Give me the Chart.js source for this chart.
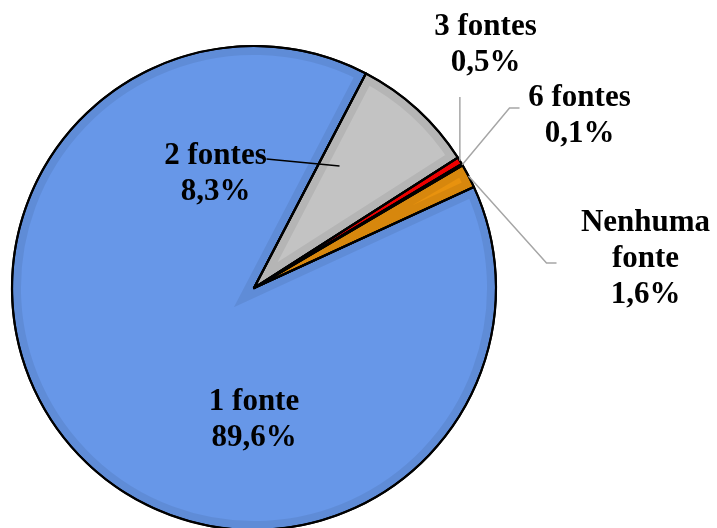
<!DOCTYPE html>
<html><head><meta charset="utf-8">
<script src="https://cdn.jsdelivr.net/npm/chart.js@4"></script>
<style>html,body{margin:0;padding:0;background:#fff;overflow:hidden}#wrap{width:717px;height:540px}</style>
</head><body><div id="wrap"><canvas id="c" width="717" height="540"></canvas></div>
<script>
const categories = ['1 fonte', '2 fontes', '3 fontes', '6 fontes', 'Nenhuma fonte'];
const percentages = [89.6, 8.3, 0.5, 0.1, 1.6];
const percentLabels = ['89,6%', '8,3%', '0,5%', '0,1%', '1,6%'];
const labelLines = [['1 fonte'], ['2 fontes'], ['3 fontes'], ['6 fontes'], ['Nenhuma', 'fonte']];
const sliceColors = ['#6797E8', '#C3C3C3', '#FF0000', '#000000', '#E8920E'];

// label block centre offsets from pie centre (px)
const labelOffsets = [[0, 131.5], [-38.5, -114.5], [231.5, -243.5], [325.5, -172.5], [391.5, -29]];
// leader line points after the slice anchor (offsets from centre)
const leaders = [null, null, [[206, -191]], [[255.5, -180], [265.5, -180]], [[292.5, -25], [302.5, -25]]];

const bevelPlugin = {
  id: 'bevel',
  afterDatasetsDraw(chart) {
    const ctx = chart.ctx;
    const meta = chart.getDatasetMeta(0);
    meta.data.forEach((el, i) => {
      const p = el.getProps(['x', 'y', 'startAngle', 'endAngle', 'outerRadius'], true);
      const path = () => {
        ctx.beginPath();
        ctx.moveTo(p.x, p.y);
        ctx.arc(p.x, p.y, p.outerRadius, p.startAngle, p.endAngle);
        ctx.closePath();
      };
      ctx.save();
      if (sliceColors[i] !== '#000000') {
        path();
        ctx.clip();
        path();
        ctx.lineWidth = 18;
        ctx.strokeStyle = 'rgba(0,0,0,0.07)';
        ctx.stroke();
      }
      ctx.restore();
      ctx.save();
      path();
      ctx.lineWidth = 2.2;
      ctx.lineJoin = 'round';
      ctx.strokeStyle = '#000';
      ctx.stroke();
      ctx.restore();
    });
  }
};

const labelPlugin = {
  id: 'labels',
  afterDraw(chart) {
    const ctx = chart.ctx;
    const meta = chart.getDatasetMeta(0);
    const el0 = meta.data[0];
    const cx = el0.x, cy = el0.y;
    ctx.save();
    // leader lines
    meta.data.forEach((el, i) => {
      if (!leaders[i]) return;
      const p = el.getProps(['startAngle', 'endAngle', 'outerRadius'], true);
      const mid = (p.startAngle + p.endAngle) / 2;
      const ax = cx + Math.cos(mid) * p.outerRadius;
      const ay = cy + Math.sin(mid) * p.outerRadius;
      ctx.beginPath();
      ctx.moveTo(ax, ay);
      leaders[i].forEach(([dx, dy], k) => {
        ctx.lineTo(k === 0 && i === 2 ? ax : cx + dx, cy + dy);
      });
      ctx.lineWidth = 1.5;
      ctx.strokeStyle = '#A6A6A6';
      ctx.stroke();
    });
    // 2 fontes black leader
    ctx.beginPath();
    ctx.moveTo(cx + 12.5, cy - 129);
    ctx.lineTo(cx + 85.5, cy - 122);
    ctx.lineWidth = 1.5;
    ctx.strokeStyle = '#000';
    ctx.stroke();
    // text
    ctx.font = 'bold 31px "Liberation Serif", "Times New Roman", serif';
    ctx.fillStyle = '#000';
    ctx.textAlign = 'center';
    ctx.textBaseline = 'middle';
    const lh = 36;
    categories.forEach((c, i) => {
      const lines = labelLines[i].concat([percentLabels[i]]);
      const bx = cx + labelOffsets[i][0];
      const by = cy + labelOffsets[i][1];
      const top = by - (lines.length - 1) * lh / 2;
      lines.forEach((t, k) => ctx.fillText(t, bx, top + k * lh));
    });
    ctx.restore();
  }
};

new Chart(document.getElementById('c'), {
  type: 'pie',
  data: {
    labels: categories,
    datasets: [{
      data: percentages,
      backgroundColor: sliceColors,
      borderColor: '#000',
      borderWidth: 2
    }]
  },
  options: {
    responsive: false,
    animation: false,
    rotation: -294.7,
    layout: { padding: { left: 11, right: 220, top: 45, bottom: 9 } },
    plugins: { legend: { display: false }, tooltip: { enabled: false } }
  },
  plugins: [bevelPlugin, labelPlugin]
});
</script>
</body></html>
